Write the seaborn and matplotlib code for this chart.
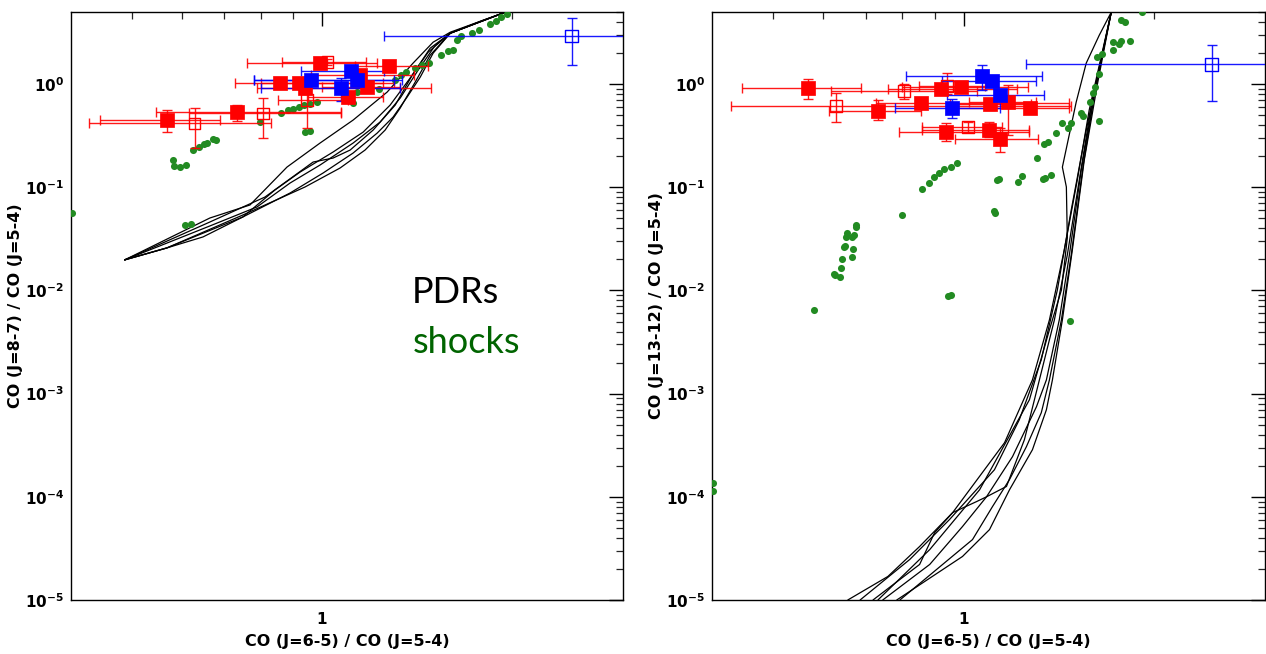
import numpy as np
import pandas as pd
import matplotlib
matplotlib.use("Agg")
import matplotlib.pyplot as plt
import seaborn as sns
from matplotlib.ticker import FixedLocator, NullFormatter, FixedFormatter, LogLocator, LogFormatterSciNotation

# ---------------- data : left panel  (x = CO 6-5 / 5-4, y = CO 8-7 / 5-4) ----------------
# PDR model tracks
pdrL_A_x = [0.4866, 0.664, 0.7687, 0.880, 0.9927, 1.120, 1.268, 1.394, 1.500, 1.597, 1.801, 1.952]
pdrL_A_y = [0.0198, 0.0504, 0.0674, 0.1572, 0.2685, 0.4482, 0.8368, 1.597, 2.551, 3.187, 4.165, 4.977]
pdrL_B_x = [0.4866, 0.5675, 0.6475, 0.749, 0.890, 1.0037, 1.120, 1.223, 1.296, 1.364, 1.431, 1.500, 1.597, 1.801, 1.952]
pdrL_B_y = [0.0198, 0.02585, 0.03303, 0.0516, 0.0881, 0.1375, 0.2148, 0.3355, 0.4792, 0.7484, 1.169, 1.996, 3.117, 4.165, 4.977]
pdrL_C_x = [0.4866, 0.5675, 0.749, 0.842, 0.923, 1.041, 1.162, 1.282, 1.379, 1.473, 1.597, 1.952]
pdrL_C_y = [0.0198, 0.02585, 0.0516, 0.0942, 0.1406, 0.2197, 0.343, 0.626, 1.143, 2.04, 3.117, 4.977]
pdrL_D_x = [0.4866, 0.664, 0.7886, 0.890, 0.9927, 1.120, 1.236, 1.330, 1.420, 1.512, 1.597, 1.952]
pdrL_D_y = [0.0198, 0.0422, 0.0645, 0.1101, 0.1644, 0.2685, 0.4286, 0.732, 1.366, 2.385, 3.117, 4.977]
pdrL_E_x = [0.4866, 0.5675, 0.749, 0.9397, 1.068, 1.170, 1.259, 1.330, 1.405, 1.484, 1.597, 1.952]
pdrL_E_y = [0.0198, 0.02585, 0.0539, 0.1007, 0.1538, 0.2297, 0.3587, 0.5856, 1.046, 1.909, 3.117, 4.977]
pdrL_F_x = [0.4866, 0.664, 0.812, 0.968, 1.041, 1.108, 1.205, 1.306, 1.390, 1.484, 1.597, 1.952]
pdrL_F_y = [0.0198, 0.0461, 0.0805, 0.1758, 0.1921, 0.2297, 0.3587, 0.626, 1.222, 2.231, 3.117, 4.977]

# shock models
shockL_x = [0.402, 0.606, 0.620, 0.580, 0.582, 0.596, 0.609, 0.624, 0.639, 0.650, 0.658, 0.672, 0.680,
            0.798, 0.862, 0.882, 0.900, 0.918, 0.937, 0.958, 0.981, 0.940, 0.957, 1.121, 1.138, 1.231,
            1.307, 1.334, 1.360, 1.406, 1.440, 1.477, 1.544, 1.585, 1.610, 1.639, 1.661, 1.729, 1.776,
            1.848, 1.886, 1.923, 1.963]
shockL_y = [0.056, 0.0432, 0.0441, 0.184, 0.161, 0.156, 0.163, 0.230, 0.247, 0.262, 0.270, 0.291, 0.285,
            0.426, 0.527, 0.560, 0.580, 0.603, 0.621, 0.640, 0.670, 0.340, 0.353, 0.659, 0.842, 0.888,
            1.093, 1.220, 1.315, 1.420, 1.527, 1.607, 1.910, 2.100, 2.160, 2.670, 2.910, 3.100, 3.330,
            3.810, 4.100, 4.480, 4.830]

# observations (red filled)
redL_x = [0.567, 0.734, 0.857, 0.921, 0.992, 1.277, 0.940, 1.100, 1.180, 1.147]
redL_y = [0.448, 0.536, 1.015, 1.030, 1.610, 1.490, 0.908, 0.753, 0.930, 1.220]
redL_xlo = [0.444, 0.546, 0.728, 0.800, 0.760, 1.126, 0.790, 0.950, 1.000, 0.960]
redL_xhi = [0.689, 1.070, 1.250, 1.300, 1.220, 1.470, 1.490, 1.250, 1.330, 1.400]
redL_ylo = [0.340, 0.440, 0.940, 0.950, 1.450, 1.380, 0.840, 0.650, 0.860, 1.130]
redL_yhi = [0.560, 0.630, 1.090, 1.110, 1.780, 1.600, 0.980, 0.850, 1.000, 1.310]
# red open
redoL_x = [0.628, 0.807, 1.020, 0.946]
redoL_y = [0.416, 0.520, 1.640, 0.700]
redoL_xlo = [0.427, 0.616, 0.863, 0.850]
redoL_xhi = [0.829, 1.070, 1.174, 1.100]
redoL_ylo = [0.239, 0.298, 1.520, 0.377]
redoL_yhi = [0.590, 0.737, 1.770, 0.795]
# blue filled
blueL_x = [1.110, 0.960, 1.136, 1.070]
blueL_y = [1.340, 1.090, 1.090, 0.908]
blueL_xlo = [0.926, 0.780, 0.780, 0.800]
blueL_xhi = [1.254, 1.300, 1.340, 1.330]
blueL_ylo = [1.250, 1.010, 1.010, 0.685]
blueL_yhi = [1.440, 1.170, 1.170, 1.150]
# blue open
blueoL_x = [2.487]
blueoL_y = [2.940]
blueoL_xlo = [1.255]
blueoL_xhi = [3.500]
blueoL_ylo = [1.530]
blueoL_yhi = [4.420]

# ---------------- data : right panel  (x = CO 6-5 / 5-4, y = CO 13-12 / 5-4) ----------------
pdrR_1_x = [0.656, 0.759, 0.852, 0.961, 1.161, 1.285, 1.367, 1.443, 1.513, 1.580, 1.712]
pdrR_1_y = [1.0e-5, 1.69e-5, 3.30e-5, 7.03e-5, 3.35e-4, 1.36e-3, 5.19e-3, 2.47e-2, 0.1177, 0.560, 4.98]
pdrR_2_x = [0.719, 0.852, 0.900, 0.961, 1.048, 1.087, 1.169, 1.248, 1.318, 1.392, 1.459, 1.524, 1.598, 1.712]
pdrR_2_y = [1.0e-5, 2.21e-5, 4.50e-5, 7.03e-5, 8.98e-5, 1.00e-4, 1.26e-4, 3.58e-4, 1.36e-3, 5.19e-3, 2.21e-2, 0.1177, 0.700, 4.98]
pdrR_3_x = [0.745, 0.884, 0.996, 1.087, 1.195, 1.304, 1.352, 1.417, 1.470, 1.535, 1.609, 1.712]
pdrR_3_y = [1.0e-5, 2.21e-5, 5.15e-5, 1.00e-4, 2.45e-4, 7.47e-4, 1.36e-3, 5.19e-3, 2.21e-2, 0.147, 0.783, 4.98]
pdrR_4_x = [0.784, 0.996, 1.099, 1.182, 1.285, 1.352, 1.382, 1.433, 1.486, 1.552, 1.627, 1.712]
pdrR_4_y = [1.0e-5, 2.64e-5, 4.81e-5, 1.17e-4, 2.86e-4, 6.98e-4, 1.36e-3, 5.19e-3, 2.47e-2, 0.184, 0.978, 4.98]
pdrR_5_x = [0.793, 1.033, 1.111, 1.182, 1.257, 1.327, 1.367, 1.428, 1.480, 1.546, 1.615, 1.712]
pdrR_5_y = [1.0e-5, 3.85e-5, 8.04e-5, 1.47e-4, 3.06e-4, 6.53e-4, 1.36e-3, 5.19e-3, 2.21e-2, 0.164, 0.875, 4.98]
pdrR_6_x = [0.732, 0.884, 1.060, 1.271, 1.367, 1.428, 1.459, 1.454, 1.433, 1.507, 1.563, 1.639, 1.712]
pdrR_6_y = [1.0e-5, 3.08e-5, 1.17e-4, 8.73e-4, 4.16e-3, 1.01e-2, 3.23e-2, 0.1007, 0.157, 0.670, 1.597, 2.98, 4.98]
pdrR_7_x = [0.686, 0.822, 0.950, 1.119, 1.225, 1.327, 1.407, 1.480, 1.563, 1.712]
pdrR_7_y = [1.0e-5, 2.47e-5, 6.02e-5, 1.83e-4, 5.59e-4, 2.13e-3, 1.01e-2, 6.03e-2, 0.359, 4.98]

shockR_x = [0.580, 0.624, 0.625, 0.637, 0.641, 0.642, 0.646, 0.649, 0.652, 0.655, 0.667, 0.670, 0.665,
            0.668, 0.677, 0.675, 0.798, 0.861, 0.881, 0.898, 0.913, 0.932, 0.954, 0.978, 0.946, 0.954,
            1.116, 1.121, 1.128, 1.137, 1.220, 1.235, 1.307, 1.335, 1.347, 1.374, 1.341, 1.359, 1.401,
            1.429, 1.463, 1.479, 1.535, 1.543, 1.584, 1.605, 1.613, 1.637, 1.626, 1.656, 1.637, 1.721,
            1.723, 1.764, 1.776, 1.835, 1.776, 1.799, 1.914, 1.471, 0.402, 0.401]
shockR_y = [0.00649, 0.01448, 0.01406, 0.01345, 0.01644, 0.0201, 0.02625, 0.027, 0.0328, 0.0358, 0.0332,
            0.0345, 0.0211, 0.0251, 0.0429, 0.0416, 0.0539, 0.0957, 0.111, 0.125, 0.1386, 0.1494, 0.1585,
            0.1707, 0.00887, 0.00906, 0.0594, 0.056, 0.1186, 0.1195, 0.1133, 0.1286, 0.191, 0.1195,
            0.1223, 0.1315, 0.2626, 0.2725, 0.3334, 0.416, 0.372, 0.422, 0.520, 0.493, 0.674, 0.813,
            0.929, 1.25, 1.837, 1.98, 0.441, 2.134, 2.534, 2.477, 2.624, 2.607, 4.23, 3.98, 4.95,
            0.00508, 1.36e-4, 1.15e-4]

redR_x = [0.567, 0.733, 0.855, 0.920, 0.989, 0.938, 1.098, 1.140, 1.101, 1.176, 1.273]
redR_y = [0.909, 0.548, 0.659, 0.888, 0.928, 0.345, 0.359, 0.291, 0.636, 0.674, 0.590]
redR_xlo = [0.446, 0.612, 0.727, 0.760, 0.800, 0.789, 0.858, 0.969, 0.950, 1.020, 0.980]
redR_xhi = [0.688, 0.855, 1.467, 1.216, 1.266, 1.270, 1.270, 1.312, 1.280, 1.300, 1.470]
redR_ylo = [0.716, 0.448, 0.600, 0.800, 0.830, 0.280, 0.310, 0.218, 0.560, 0.320, 0.550]
redR_yhi = [1.118, 0.700, 0.720, 0.980, 1.030, 0.420, 0.430, 0.372, 0.710, 0.978, 0.630]

redoR_x = [0.628, 0.806, 0.942, 1.015]
redoR_y = [0.612, 0.862, 0.963, 0.386]
redoR_xlo = [0.429, 0.616, 0.850, 0.860]
redoR_xhi = [1.477, 1.050, 1.080, 1.150]
redoR_ylo = [0.432, 0.720, 0.800, 0.340]
redoR_yhi = [0.813, 1.000, 1.290, 0.430]

blueR_x = [1.070, 1.110, 1.140, 0.957]
blueR_y = [1.195, 1.070, 0.782, 0.581]
blueR_xlo = [0.810, 0.923, 0.940, 0.780]
blueR_xhi = [1.330, 1.304, 1.340, 1.140]
blueR_ylo = [0.875, 0.990, 0.720, 0.470]
blueR_yhi = [1.530, 1.160, 0.850, 0.710]

blueoR_x = [2.468]
blueoR_y = [1.551]
blueoR_xlo = [1.253]
blueoR_xhi = [3.500]
blueoR_ylo = [0.690]
blueoR_yhi = [2.420]

x_label = "CO (J=6-5) / CO (J=5-4)"
y_label_left = "CO (J=8-7) / CO (J=5-4)"
y_label_right = "CO (J=13-12) / CO (J=5-4)"
label_pdr = "PDRs"
label_shock = "shocks"

# ---------------- drawing ----------------
sns.set_style("white")
plt.rcParams["font.family"] = ["DejaVu Sans"]
plt.rcParams["mathtext.default"] = "bf"
plt.rcParams["text.color"] = "black"
plt.rcParams["axes.labelcolor"] = "black"

fig = plt.figure(figsize=(12.66, 6.54), dpi=100)
axL = fig.add_axes([0.0561, 0.0826, 0.436, 0.899])
axR = fig.add_axes([0.5624, 0.0826, 0.437, 0.899])

RED = "#ff0000"
BLUE = "#0000ff"
GREEN = "#228b22"


def model_frame(pairs):
    rows = []
    for i, (xs, ys) in enumerate(pairs):
        for x, y in zip(xs, ys):
            rows.append({"x": x, "y": y, "model": i})
    return pd.DataFrame(rows)


def draw_obs(ax, xs, ys, xlo, xhi, ylo, yhi, color, filled, ms):
    xs = np.asarray(xs); ys = np.asarray(ys)
    xerr = [xs - np.asarray(xlo), np.asarray(xhi) - xs]
    yerr = [ys - np.asarray(ylo), np.asarray(yhi) - ys]
    ax.errorbar(xs, ys, xerr=xerr, yerr=yerr, fmt="none", ecolor=color,
                elinewidth=1.0, capsize=3.5, capthick=1.0, zorder=3, alpha=0.9)
    df = pd.DataFrame({"x": xs, "y": ys})
    if filled:
        sns.scatterplot(data=df, x="x", y="y", ax=ax, marker="s", s=ms ** 2,
                        color=color, edgecolor=color, linewidth=0.5, zorder=4, legend=False)
    else:
        sns.scatterplot(data=df, x="x", y="y", ax=ax, marker="s", s=ms ** 2,
                        facecolor="none", edgecolor=color, linewidth=1.0, zorder=4, legend=False)


panels = [
    (axL,
     [(pdrL_A_x, pdrL_A_y), (pdrL_B_x, pdrL_B_y), (pdrL_C_x, pdrL_C_y),
      (pdrL_D_x, pdrL_D_y), (pdrL_E_x, pdrL_E_y), (pdrL_F_x, pdrL_F_y)],
     (shockL_x, shockL_y),
     (redL_x, redL_y, redL_xlo, redL_xhi, redL_ylo, redL_yhi),
     (redoL_x, redoL_y, redoL_xlo, redoL_xhi, redoL_ylo, redoL_yhi),
     (blueL_x, blueL_y, blueL_xlo, blueL_xhi, blueL_ylo, blueL_yhi),
     (blueoL_x, blueoL_y, blueoL_xlo, blueoL_xhi, blueoL_ylo, blueoL_yhi),
     y_label_left),
    (axR,
     [(pdrR_1_x, pdrR_1_y), (pdrR_2_x, pdrR_2_y), (pdrR_3_x, pdrR_3_y), (pdrR_4_x, pdrR_4_y),
      (pdrR_5_x, pdrR_5_y), (pdrR_6_x, pdrR_6_y), (pdrR_7_x, pdrR_7_y)],
     (shockR_x, shockR_y),
     (redR_x, redR_y, redR_xlo, redR_xhi, redR_ylo, redR_yhi),
     (redoR_x, redoR_y, redoR_xlo, redoR_xhi, redoR_ylo, redoR_yhi),
     (blueR_x, blueR_y, blueR_xlo, blueR_xhi, blueR_ylo, blueR_yhi),
     (blueoR_x, blueoR_y, blueoR_xlo, blueoR_xhi, blueoR_ylo, blueoR_yhi),
     y_label_right),
]

for ax, models, shocks, red, redo, blue, blueo, ylab in panels:
    ax.set_xscale("log")
    ax.set_yscale("log")
    mdf = model_frame(models)
    sns.lineplot(data=mdf, x="x", y="y", units="model", estimator=None, sort=False,
                 color="black", linewidth=0.9, ax=ax, zorder=2, legend=False)
    sdf = pd.DataFrame({"x": shocks[0], "y": shocks[1]})
    sns.scatterplot(data=sdf, x="x", y="y", ax=ax, color=GREEN, s=26, edgecolor=GREEN,
                    linewidth=0, zorder=3, legend=False)
    draw_obs(ax, *red, RED, True, 10)
    draw_obs(ax, *redo, RED, False, 8.5)
    draw_obs(ax, *blue, BLUE, True, 10)
    draw_obs(ax, *blueo, BLUE, False, 9)

    ax.set_xlim(0.4, 3.0)
    ax.set_ylim(1e-5, 5)
    ax.xaxis.set_major_locator(FixedLocator([1.0]))
    ax.xaxis.set_major_formatter(FixedFormatter(["1"]))
    ax.xaxis.set_minor_locator(FixedLocator([0.5, 0.6, 0.7, 0.8, 0.9, 2.0]))
    ax.xaxis.set_minor_formatter(NullFormatter())
    ax.yaxis.set_major_locator(LogLocator(base=10, numticks=12))
    ax.yaxis.set_major_formatter(LogFormatterSciNotation())
    ax.yaxis.set_minor_locator(LogLocator(base=10, subs=np.arange(2, 10), numticks=12))
    ax.yaxis.set_minor_formatter(NullFormatter())
    ax.tick_params(which="major", direction="in", length=10, width=1.0, top=True, right=True,
                   labelsize=11, colors="black", pad=5)
    ax.tick_params(axis="x", which="major", pad=9)
    ax.tick_params(which="minor", direction="in", length=5, width=0.9, top=True, right=True)
    for lab in ax.get_xticklabels() + ax.get_yticklabels():
        lab.set_fontweight("bold")
    for sp in ax.spines.values():
        sp.set_visible(True)
        sp.set_color("black")
        sp.set_linewidth(1.0)
    ax.set_xlabel(x_label, fontsize=11.5, fontweight="bold", labelpad=5, color="black")
    ax.set_ylabel(ylab, fontsize=11.5, fontweight="bold", labelpad=1, color="black")

axL.text(1.39, 0.0076, label_pdr, fontsize=26, color="black", family=["Lato", "DejaVu Sans"],
         ha="left", va="baseline")
axL.text(1.39, 0.00249, label_shock, fontsize=26, color="#006400", family=["Lato", "DejaVu Sans"],
         ha="left", va="baseline")

fig.savefig("out.png", dpi=100)
